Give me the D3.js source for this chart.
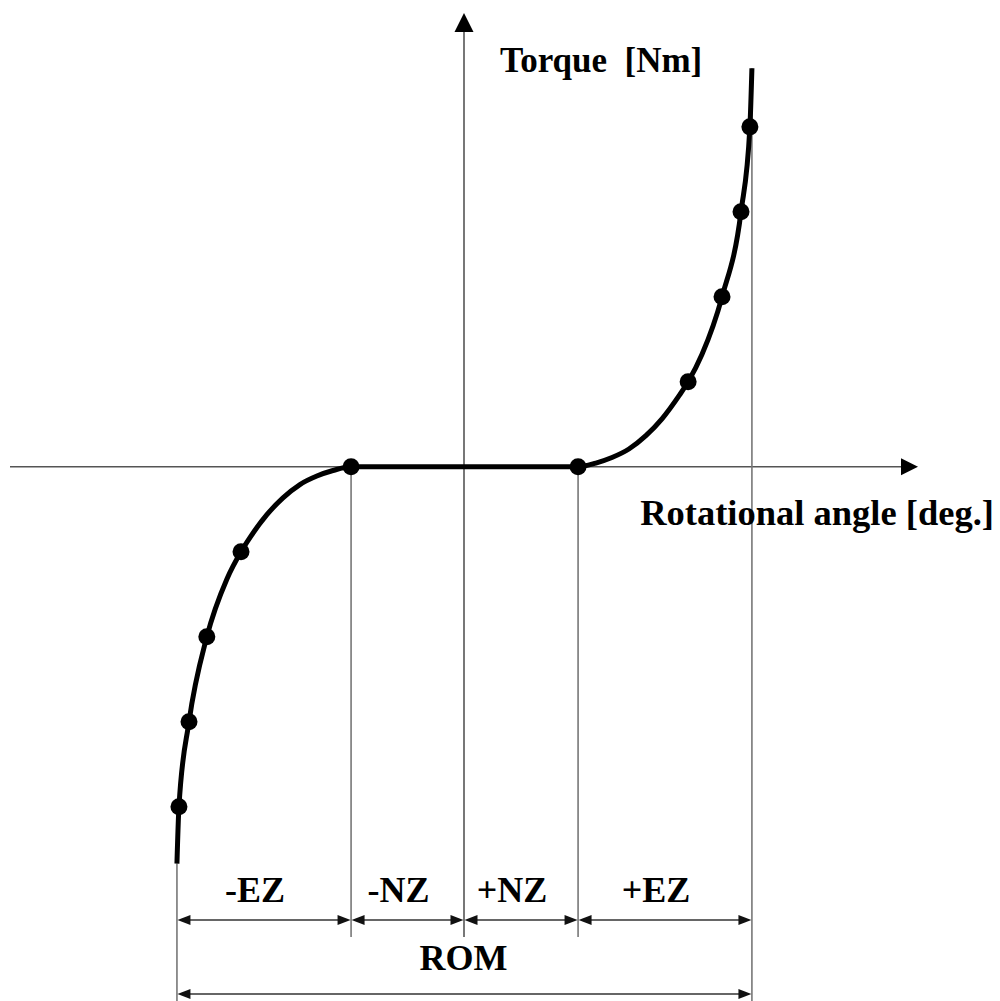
<!DOCTYPE html>
<html>
<head>
<meta charset="utf-8">
<script src="https://cdn.jsdelivr.net/npm/d3@7"></script>
<style>
  body { margin: 0; background: #fff; }
  svg { display: block; }
  .lbl { font-family: "Liberation Serif", "Times New Roman", serif; font-weight: bold; fill: #000; }
</style>
</head>
<body>
<div id="vis"></div>
<script>
// torque / angle curve (angle in deg, torque in Nm)
var curveAngle = [-9.99, -9.92, -9.57, -8.95, -8.25, -7.76, -7.45, -6.86, -6.30, -5.71, -5.12, -4.56, -3.93,
                  3.97, 4.59, 5.15, 5.74, 6.33, 6.89, 7.48, 7.80, 8.28, 8.98, 9.64, 9.95, 10.02];
var curveTorque = [-4.67, -4.00, -3.00, -2.00, -1.32, -1.00, -0.834, -0.564, -0.366, -0.209, -0.109, -0.044, 0,
                   0, 0.044, 0.109, 0.209, 0.366, 0.564, 0.834, 1.00, 1.32, 2.00, 3.00, 4.00, 4.69];

// measured points (dots)
var dotAngle = [-9.92, -9.57, -8.95, -7.76, -3.93, 3.97, 7.80, 8.98, 9.64, 9.95];
var dotTorque = [-4, -3, -2, -1, 0, 0, 1, 2, 3, 4];

// zone boundaries and names
var zoneEdges = [-9.99, -3.93, 0, 3.97, 10.02];
var zoneNames = ['-EZ', '-NZ', '+NZ', '+EZ'];
var romName = 'ROM';

var width = 1000;
var height = 1001;

var svg = d3.select('#vis')
            .append('svg')
            .attr('width', width)
            .attr('height', height);

var xScale = d3.scaleLinear().domain([-15.8, 15.8]).range([10, 918]);
var yScale = d3.scaleLinear().domain([-5.51, 5.34]).range([935, 13]);

var x0 = xScale(0), y0 = yScale(0);
var axisColor = '#555';
var dimColor = '#333';
var extColor = '#777';

// x axis
svg.append('line')
    .attr('x1', xScale(-15.8)).attr('x2', xScale(15.8) - 16)
    .attr('y1', y0).attr('y2', y0)
    .attr('stroke', axisColor).attr('stroke-width', 1.6);
svg.append('path')
    .attr('d', 'M' + xScale(15.8) + ',' + y0 + 'L' + (xScale(15.8) - 17) + ',' + (y0 - 8.5) + 'L' + (xScale(15.8) - 17) + ',' + (y0 + 8.5) + 'Z')
    .attr('fill', '#000');

// y axis
svg.append('line')
    .attr('x1', x0).attr('x2', x0)
    .attr('y1', yScale(5.34) + 18).attr('y2', yScale(-5.51) + 2)
    .attr('stroke', axisColor).attr('stroke-width', 1.6);
svg.append('path')
    .attr('d', 'M' + x0 + ',' + yScale(5.34) + 'L' + (x0 - 9.5) + ',' + (yScale(5.34) + 19) + 'L' + (x0 + 9.5) + ',' + (yScale(5.34) + 19) + 'Z')
    .attr('fill', '#000');

// extension lines for the zone boundaries
var zoneY = 920;
var romY = 994;
zoneEdges.forEach(function(e, i) {
    if (e === 0) return;
    var top, bottom;
    if (i === 0) { top = yScale(curveTorque[0]); bottom = height; }
    else if (i === zoneEdges.length - 1) { top = yScale(curveTorque[curveTorque.length - 1]); bottom = height; }
    else { top = y0; bottom = 937; }
    svg.append('line')
        .attr('x1', xScale(e)).attr('x2', xScale(e))
        .attr('y1', top).attr('y2', bottom)
        .attr('stroke', extColor).attr('stroke-width', 1.6);
});

// double-headed dimension arrow
var dimArrow = function(xa, xb, y) {
    var aw = 13, ah = 5;
    svg.append('line')
        .attr('x1', xa + 4).attr('x2', xb - 4)
        .attr('y1', y).attr('y2', y)
        .attr('stroke', dimColor).attr('stroke-width', 1.6);
    svg.append('path')
        .attr('d', 'M' + xa + ',' + y + 'L' + (xa + aw) + ',' + (y - ah) + 'L' + (xa + aw) + ',' + (y + ah) + 'Z')
        .attr('fill', '#111');
    svg.append('path')
        .attr('d', 'M' + xb + ',' + y + 'L' + (xb - aw) + ',' + (y - ah) + 'L' + (xb - aw) + ',' + (y + ah) + 'Z')
        .attr('fill', '#111');
};

zoneNames.forEach(function(name, i) {
    var xa = xScale(zoneEdges[i]) + 0.5, xb = xScale(zoneEdges[i + 1]) - 0.5;
    dimArrow(xa, xb, zoneY);
    svg.append('text')
        .attr('class', 'lbl')
        .attr('x', (xa + xb) / 2 - 9)
        .attr('y', 902)
        .attr('text-anchor', 'middle')
        .style('font-size', '36px')
        .text(name);
});

var romA = xScale(zoneEdges[0]) + 0.5, romB = xScale(zoneEdges[zoneEdges.length - 1]) - 0.5;
dimArrow(romA, romB, romY);
svg.append('text')
    .attr('class', 'lbl')
    .attr('x', (romA + romB) / 2 - 1)
    .attr('y', 970)
    .attr('text-anchor', 'middle')
    .style('font-size', '36px')
    .text(romName);

// curve
var pts = curveAngle.map(function(a, i) { return [a, curveTorque[i]]; });
var line = d3.line()
    .x(function(d) { return xScale(d[0]); })
    .y(function(d) { return yScale(d[1]); })
    .curve(d3.curveMonotoneX);

svg.append('path')
    .datum(pts)
    .attr('d', line)
    .attr('fill', 'none')
    .attr('stroke', '#000')
    .attr('stroke-width', 5);

svg.selectAll('circle.dot')
    .data(dotAngle)
    .enter()
    .append('circle')
    .attr('class', 'dot')
    .attr('cx', function(d) { return xScale(d); })
    .attr('cy', function(d, i) { return yScale(dotTorque[i]); })
    .attr('r', 8.5)
    .attr('fill', '#000');

// axis labels
svg.append('text')
    .attr('class', 'lbl')
    .attr('x', 500)
    .attr('y', 72)
    .style('font-size', '35px')
    .style('white-space', 'pre')
    .text('Torque  [Nm]');

svg.append('text')
    .attr('class', 'lbl')
    .attr('x', 994)
    .attr('y', 525)
    .attr('text-anchor', 'end')
    .style('font-size', '36.5px')
    .text('Rotational angle [deg.]');
</script>
</body>
</html>
